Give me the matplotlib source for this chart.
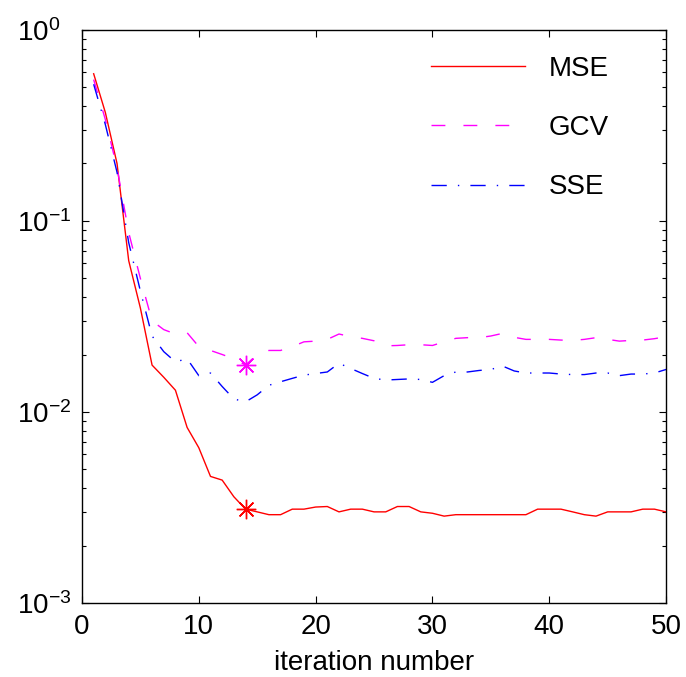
import numpy as np
import matplotlib
matplotlib.use('Agg')
import matplotlib.pyplot as plt
from matplotlib.ticker import LogLocator, NullFormatter

plt.rcParams['font.family'] = ['Liberation Sans', 'DejaVu Sans']
plt.rcParams['mathtext.fontset'] = 'custom'
plt.rcParams['mathtext.rm'] = 'Liberation Sans'
plt.rcParams['mathtext.default'] = 'regular'
plt.rcParams['lines.scale_dashes'] = False

# valores
iters = np.arange(1, 51)
mse = [0.59, 0.37, 0.20, 0.062, 0.035, 0.0176, 0.0152, 0.013, 0.0083, 0.0065,
       0.0046, 0.0044, 0.0036, 0.0031, 0.0030, 0.0029, 0.0029, 0.0031, 0.0031, 0.00318,
       0.0032, 0.0030, 0.0031, 0.0031, 0.0030, 0.0030, 0.0032, 0.0032, 0.0030, 0.00295,
       0.00285, 0.0029, 0.0029, 0.0029, 0.0029, 0.0029, 0.0029, 0.0029, 0.0031, 0.0031,
       0.0031, 0.0030, 0.0029, 0.00285, 0.0030, 0.0030, 0.0030, 0.0031, 0.0031, 0.0030]
gcv = [0.55, 0.34, 0.19, 0.087, 0.050, 0.030, 0.027, 0.0256, 0.026, 0.022,
       0.021, 0.020, 0.019, 0.0176, 0.020, 0.021, 0.021, 0.022, 0.0233, 0.0235,
       0.024, 0.0256, 0.0248, 0.0243, 0.0236, 0.0222, 0.0223, 0.0225, 0.0225, 0.0223,
       0.0233, 0.0243, 0.0245, 0.0245, 0.025, 0.0258, 0.0246, 0.024, 0.024, 0.024,
       0.0238, 0.0237, 0.024, 0.0245, 0.024, 0.0235, 0.0237, 0.0238, 0.0242, 0.0248]
sse = [0.52, 0.32, 0.18, 0.077, 0.043, 0.025, 0.0207, 0.0183, 0.019, 0.0155,
       0.016, 0.0136, 0.0117, 0.0113, 0.0123, 0.0138, 0.0144, 0.015, 0.0156, 0.0159,
       0.0162, 0.018, 0.0169, 0.0159, 0.015, 0.0147, 0.0148, 0.0149, 0.0148, 0.0143,
       0.0155, 0.0162, 0.0162, 0.0165, 0.0167, 0.0174, 0.0164, 0.016, 0.016, 0.016,
       0.0158, 0.0157, 0.0157, 0.016, 0.016, 0.0155, 0.0158, 0.0158, 0.016, 0.0167]
best_mse = 14
best_gcv = 14

fig = plt.figure(figsize=(6.86, 6.77), dpi=100)
ax = fig.add_axes([0.1195, 0.1093, 0.8515, 0.8464])

lw = 1.0
ax.semilogy(iters, mse, color='red', lw=lw, label='MSE')
ax.semilogy(iters, gcv, color='magenta', lw=lw, dashes=(10, 13), label='GCV')
ax.semilogy(iters, sse, color='blue', lw=lw, dashes=(11, 8, 1, 8), label='SSE')

# minimos marcados con asterisco
ax.plot(best_mse, mse[best_mse - 1], marker=(8, 2, 0), ms=14, color='red', mew=1.0)
ax.plot(best_gcv, gcv[best_gcv - 1], marker=(8, 2, 0), ms=14, color='magenta', mew=1.0)

ax.set_xlim(0, 50)
ax.set_ylim(1e-3, 1e0)
ax.set_xticks([0, 10, 20, 30, 40, 50])
ax.set_yticks([1e-3, 1e-2, 1e-1, 1e0])
ax.set_yticklabels([r'$10^{-3}$', r'$10^{-2}$', r'$10^{-1}$', r'$10^{0}$'])
ax.yaxis.set_minor_locator(LogLocator(base=10, subs=np.arange(2, 10), numticks=10))
ax.yaxis.set_minor_formatter(NullFormatter())
ax.tick_params(which='both', direction='in', top=True, right=True, labelsize=20, width=0.8)
ax.tick_params(which='major', length=5)
ax.tick_params(which='minor', length=3)
ax.tick_params(axis='x', pad=8)
ax.tick_params(axis='y', pad=47)
plt.setp(ax.get_yticklabels(), ha='left')
for s in ax.spines.values():
    s.set_linewidth(1.0)

ax.set_xlabel('iteration number', fontsize=20, labelpad=7)

leg = ax.legend(loc='upper left', bbox_to_anchor=((431 - 82) / 584, 0.955),
                frameon=False, fontsize=20, handlelength=3.4, handletextpad=0.83,
                labelspacing=1.2, borderaxespad=0, borderpad=0)

fig.savefig('out.png', dpi=100)
